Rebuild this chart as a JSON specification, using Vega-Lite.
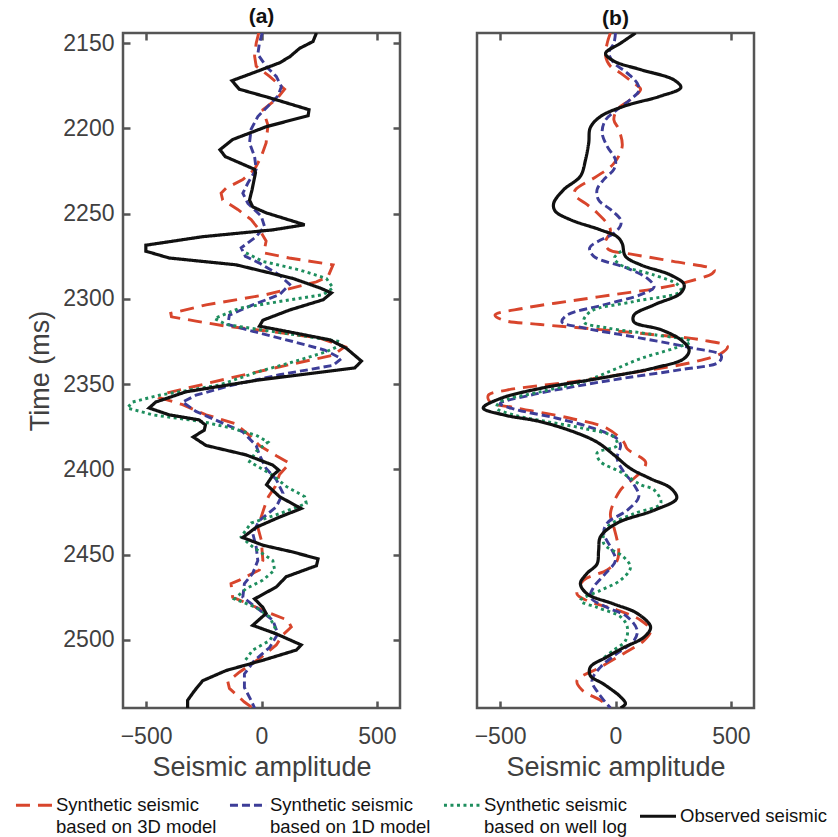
{
  "$schema": "https://vega.github.io/schema/vega-lite/v6.json",
  "padding": {"left": 14, "top": 5, "right": 0, "bottom": 0},
  "background": "white",
  "config": {
    "font": "Liberation Sans",
    "view": {"stroke": "#555555", "strokeWidth": 2.5},
    "axis": {"grid": false, "domain": false, "tickColor": "#555555", "tickWidth": 2.5, "tickSize": -7, "labelFontSize": 23, "labelColor": "#404040", "titleFontSize": 27, "titleFontWeight": "normal", "titleColor": "#404040", "labelFont": "Liberation Sans", "titleFont": "Liberation Sans"},
    "title": {"fontSize": 21, "fontWeight": "bold", "color": "#111111", "offset": 3, "font": "Liberation Sans"},
    "legend": {"title": null, "orient": "none", "legendX": -109, "legendY": 752, "direction": "horizontal", "columns": 4, "symbolType": "stroke", "symbolSize": 1300, "symbolStrokeWidth": 3, "labelFontSize": 18.5, "labelColor": "#111111", "labelLimit": 400, "columnPadding": 6, "labelOffset": 2, "labelFont": "Liberation Sans"},
    "style": {"guide-label": {"lineHeight": 22}}
  },
  "data": {"values": [
    {"p":"a","s":"3D model","t":2144,"v":-12},{"p":"a","s":"3D model","t":2150,"v":-23},{"p":"a","s":"3D model","t":2157.5,"v":-30},{"p":"a","s":"3D model","t":2163.5,"v":-23},{"p":"a","s":"3D model","t":2169.5,"v":35},{"p":"a","s":"3D model","t":2177,"v":100},{"p":"a","s":"3D model","t":2183,"v":64},{"p":"a","s":"3D model","t":2189,"v":6},{"p":"a","s":"3D model","t":2198,"v":28},{"p":"a","s":"3D model","t":2208.5,"v":20},{"p":"a","s":"3D model","t":2216.5,"v":-1},{"p":"a","s":"3D model","t":2224,"v":-30},{"p":"a","s":"3D model","t":2230,"v":-81},{"p":"a","s":"3D model","t":2235,"v":-153},{"p":"a","s":"3D model","t":2238,"v":-175},{"p":"a","s":"3D model","t":2242,"v":-168},{"p":"a","s":"3D model","t":2247.5,"v":-103},{"p":"a","s":"3D model","t":2253.5,"v":-45},{"p":"a","s":"3D model","t":2259.5,"v":-9},{"p":"a","s":"3D model","t":2266,"v":20},{"p":"a","s":"3D model","t":2273,"v":10},{"p":"a","s":"3D model","t":2276,"v":120},{"p":"a","s":"3D model","t":2280,"v":310},{"p":"a","s":"3D model","t":2287,"v":288},{"p":"a","s":"3D model","t":2290,"v":238},{"p":"a","s":"3D model","t":2297.5,"v":20},{"p":"a","s":"3D model","t":2303.5,"v":-240},{"p":"a","s":"3D model","t":2308.5,"v":-393},{"p":"a","s":"3D model","t":2310.5,"v":-390},{"p":"a","s":"3D model","t":2313,"v":-284},{"p":"a","s":"3D model","t":2316,"v":-153},{"p":"a","s":"3D model","t":2319,"v":35},{"p":"a","s":"3D model","t":2323,"v":252},{"p":"a","s":"3D model","t":2328,"v":361},{"p":"a","s":"3D model","t":2333,"v":310},{"p":"a","s":"3D model","t":2339,"v":107},{"p":"a","s":"3D model","t":2346.5,"v":-139},{"p":"a","s":"3D model","t":2352.5,"v":-327},{"p":"a","s":"3D model","t":2355.5,"v":-420},{"p":"a","s":"3D model","t":2358,"v":-440},{"p":"a","s":"3D model","t":2362,"v":-342},{"p":"a","s":"3D model","t":2368,"v":-240},{"p":"a","s":"3D model","t":2373,"v":-117},{"p":"a","s":"3D model","t":2380,"v":-52},{"p":"a","s":"3D model","t":2386,"v":-9},{"p":"a","s":"3D model","t":2392,"v":64},{"p":"a","s":"3D model","t":2396.5,"v":122},{"p":"a","s":"3D model","t":2403,"v":78},{"p":"a","s":"3D model","t":2410,"v":60},{"p":"a","s":"3D model","t":2416,"v":30},{"p":"a","s":"3D model","t":2422,"v":13},{"p":"a","s":"3D model","t":2434,"v":-16},{"p":"a","s":"3D model","t":2441.5,"v":-1},{"p":"a","s":"3D model","t":2453.5,"v":6},{"p":"a","s":"3D model","t":2459,"v":-9},{"p":"a","s":"3D model","t":2465,"v":-96},{"p":"a","s":"3D model","t":2467,"v":-132},{"p":"a","s":"3D model","t":2475,"v":-125},{"p":"a","s":"3D model","t":2477.5,"v":-81},{"p":"a","s":"3D model","t":2483.5,"v":20},{"p":"a","s":"3D model","t":2488.5,"v":114},{"p":"a","s":"3D model","t":2492.5,"v":129},{"p":"a","s":"3D model","t":2497,"v":93},{"p":"a","s":"3D model","t":2503,"v":64},{"p":"a","s":"3D model","t":2511,"v":-9},{"p":"a","s":"3D model","t":2519,"v":-96},{"p":"a","s":"3D model","t":2524.5,"v":-146},{"p":"a","s":"3D model","t":2528.5,"v":-139},{"p":"a","s":"3D model","t":2536.5,"v":-74},{"p":"a","s":"3D model","t":2540,"v":-38},

    {"p":"a","s":"1D model","t":2144,"v":3},{"p":"a","s":"1D model","t":2150,"v":-9},{"p":"a","s":"1D model","t":2156.5,"v":-16},{"p":"a","s":"1D model","t":2163.5,"v":20},{"p":"a","s":"1D model","t":2169.5,"v":64},{"p":"a","s":"1D model","t":2175.5,"v":86},{"p":"a","s":"1D model","t":2181,"v":71},{"p":"a","s":"1D model","t":2187,"v":28},{"p":"a","s":"1D model","t":2193,"v":-16},{"p":"a","s":"1D model","t":2200.5,"v":-45},{"p":"a","s":"1D model","t":2208.5,"v":-52},{"p":"a","s":"1D model","t":2216.5,"v":-30},{"p":"a","s":"1D model","t":2224,"v":-23},{"p":"a","s":"1D model","t":2232,"v":-59},{"p":"a","s":"1D model","t":2238,"v":-81},{"p":"a","s":"1D model","t":2244,"v":-59},{"p":"a","s":"1D model","t":2251.5,"v":-1},{"p":"a","s":"1D model","t":2257.5,"v":13},{"p":"a","s":"1D model","t":2263.5,"v":-23},{"p":"a","s":"1D model","t":2270,"v":-88},{"p":"a","s":"1D model","t":2275,"v":-70},{"p":"a","s":"1D model","t":2279,"v":-9},{"p":"a","s":"1D model","t":2286,"v":78},{"p":"a","s":"1D model","t":2291.5,"v":122},{"p":"a","s":"1D model","t":2297.5,"v":78},{"p":"a","s":"1D model","t":2303.5,"v":-38},{"p":"a","s":"1D model","t":2309.5,"v":-139},{"p":"a","s":"1D model","t":2315,"v":-146},{"p":"a","s":"1D model","t":2319,"v":-38},{"p":"a","s":"1D model","t":2325,"v":136},{"p":"a","s":"1D model","t":2330,"v":274},{"p":"a","s":"1D model","t":2335,"v":346},{"p":"a","s":"1D model","t":2339,"v":310},{"p":"a","s":"1D model","t":2344.5,"v":78},{"p":"a","s":"1D model","t":2350.5,"v":-125},{"p":"a","s":"1D model","t":2356.5,"v":-284},{"p":"a","s":"1D model","t":2360.5,"v":-342},{"p":"a","s":"1D model","t":2366,"v":-284},{"p":"a","s":"1D model","t":2372,"v":-183},{"p":"a","s":"1D model","t":2378,"v":-81},{"p":"a","s":"1D model","t":2386,"v":-23},{"p":"a","s":"1D model","t":2391.5,"v":-9},{"p":"a","s":"1D model","t":2399.5,"v":20},{"p":"a","s":"1D model","t":2406,"v":64},{"p":"a","s":"1D model","t":2414,"v":93},{"p":"a","s":"1D model","t":2422,"v":64},{"p":"a","s":"1D model","t":2430,"v":-9},{"p":"a","s":"1D model","t":2437.5,"v":-38},{"p":"a","s":"1D model","t":2445.5,"v":-23},{"p":"a","s":"1D model","t":2453.5,"v":-16},{"p":"a","s":"1D model","t":2461,"v":-38},{"p":"a","s":"1D model","t":2467,"v":-74},{"p":"a","s":"1D model","t":2475,"v":-81},{"p":"a","s":"1D model","t":2481,"v":-23},{"p":"a","s":"1D model","t":2488.5,"v":49},{"p":"a","s":"1D model","t":2496.5,"v":71},{"p":"a","s":"1D model","t":2504.5,"v":35},{"p":"a","s":"1D model","t":2512,"v":-30},{"p":"a","s":"1D model","t":2520,"v":-74},{"p":"a","s":"1D model","t":2528,"v":-74},{"p":"a","s":"1D model","t":2535.5,"v":-45},{"p":"a","s":"1D model","t":2540,"v":-30},

    {"p":"a","s":"well log","t":2273,"v":-67},{"p":"a","s":"well log","t":2278,"v":6},{"p":"a","s":"well log","t":2283,"v":165},{"p":"a","s":"well log","t":2288,"v":281},{"p":"a","s":"well log","t":2293.5,"v":310},{"p":"a","s":"well log","t":2297.5,"v":267},{"p":"a","s":"well log","t":2301.5,"v":78},{"p":"a","s":"well log","t":2305.5,"v":-96},{"p":"a","s":"well log","t":2311.5,"v":-204},{"p":"a","s":"well log","t":2315,"v":-153},{"p":"a","s":"well log","t":2318,"v":-9},{"p":"a","s":"well log","t":2322,"v":194},{"p":"a","s":"well log","t":2325,"v":339},{"p":"a","s":"well log","t":2327,"v":345},{"p":"a","s":"well log","t":2331,"v":281},{"p":"a","s":"well log","t":2337,"v":136},{"p":"a","s":"well log","t":2342.5,"v":-9},{"p":"a","s":"well log","t":2350.5,"v":-183},{"p":"a","s":"well log","t":2356.5,"v":-443},{"p":"a","s":"well log","t":2360.5,"v":-559},{"p":"a","s":"well log","t":2364,"v":-581},{"p":"a","s":"well log","t":2368,"v":-472},{"p":"a","s":"well log","t":2372,"v":-255},{"p":"a","s":"well log","t":2376,"v":-125},{"p":"a","s":"well log","t":2380,"v":-23},{"p":"a","s":"well log","t":2384,"v":28},{"p":"a","s":"well log","t":2389.5,"v":-23},{"p":"a","s":"well log","t":2395.5,"v":-52},{"p":"a","s":"well log","t":2403.5,"v":49},{"p":"a","s":"well log","t":2410,"v":107},{"p":"a","s":"well log","t":2416,"v":187},{"p":"a","s":"well log","t":2420,"v":194},{"p":"a","s":"well log","t":2426,"v":78},{"p":"a","s":"well log","t":2431.5,"v":-45},{"p":"a","s":"well log","t":2439.5,"v":-88},{"p":"a","s":"well log","t":2445.5,"v":-38},{"p":"a","s":"well log","t":2453.5,"v":49},{"p":"a","s":"well log","t":2459,"v":57},{"p":"a","s":"well log","t":2465,"v":6},{"p":"a","s":"well log","t":2470,"v":-67},{"p":"a","s":"well log","t":2476,"v":-117},{"p":"a","s":"well log","t":2481,"v":-23},{"p":"a","s":"well log","t":2486.5,"v":35},{"p":"a","s":"well log","t":2494.5,"v":64},{"p":"a","s":"well log","t":2500.5,"v":35},{"p":"a","s":"well log","t":2506,"v":-38},{"p":"a","s":"well log","t":2512,"v":-70},

    {"p":"a","s":"Observed seismic","t":2144,"v":238},{"p":"a","s":"Observed seismic","t":2149,"v":223},{"p":"a","s":"Observed seismic","t":2153,"v":165},{"p":"a","s":"Observed seismic","t":2158,"v":122},{"p":"a","s":"Observed seismic","t":2161.5,"v":78},{"p":"a","s":"Observed seismic","t":2166,"v":-9},{"p":"a","s":"Observed seismic","t":2172,"v":-128},{"p":"a","s":"Observed seismic","t":2177,"v":-96},{"p":"a","s":"Observed seismic","t":2182,"v":35},{"p":"a","s":"Observed seismic","t":2189,"v":206},{"p":"a","s":"Observed seismic","t":2192.5,"v":202},{"p":"a","s":"Observed seismic","t":2199,"v":20},{"p":"a","s":"Observed seismic","t":2206.5,"v":-125},{"p":"a","s":"Observed seismic","t":2212.5,"v":-180},{"p":"a","s":"Observed seismic","t":2216.5,"v":-157},{"p":"a","s":"Observed seismic","t":2224,"v":-30},{"p":"a","s":"Observed seismic","t":2226,"v":-26},{"p":"a","s":"Observed seismic","t":2236,"v":-41},{"p":"a","s":"Observed seismic","t":2242,"v":-52},{"p":"a","s":"Observed seismic","t":2246,"v":-38},{"p":"a","s":"Observed seismic","t":2249.5,"v":20},{"p":"a","s":"Observed seismic","t":2256.5,"v":187},{"p":"a","s":"Observed seismic","t":2259.5,"v":49},{"p":"a","s":"Observed seismic","t":2263.5,"v":-255},{"p":"a","s":"Observed seismic","t":2268.5,"v":-501},{"p":"a","s":"Observed seismic","t":2272,"v":-501},{"p":"a","s":"Observed seismic","t":2276,"v":-400},{"p":"a","s":"Observed seismic","t":2280,"v":-110},{"p":"a","s":"Observed seismic","t":2288,"v":136},{"p":"a","s":"Observed seismic","t":2293.5,"v":252},{"p":"a","s":"Observed seismic","t":2296.5,"v":303},{"p":"a","s":"Observed seismic","t":2300.5,"v":267},{"p":"a","s":"Observed seismic","t":2306.5,"v":122},{"p":"a","s":"Observed seismic","t":2312.5,"v":6},{"p":"a","s":"Observed seismic","t":2316,"v":-9},{"p":"a","s":"Observed seismic","t":2319,"v":107},{"p":"a","s":"Observed seismic","t":2324,"v":296},{"p":"a","s":"Observed seismic","t":2329,"v":368},{"p":"a","s":"Observed seismic","t":2336.5,"v":433},{"p":"a","s":"Observed seismic","t":2340.5,"v":404},{"p":"a","s":"Observed seismic","t":2347.5,"v":-9},{"p":"a","s":"Observed seismic","t":2354.5,"v":-327},{"p":"a","s":"Observed seismic","t":2360.5,"v":-458},{"p":"a","s":"Observed seismic","t":2364,"v":-487},{"p":"a","s":"Observed seismic","t":2368,"v":-400},{"p":"a","s":"Observed seismic","t":2371,"v":-270},{"p":"a","s":"Observed seismic","t":2374,"v":-243},{"p":"a","s":"Observed seismic","t":2377,"v":-248},{"p":"a","s":"Observed seismic","t":2381,"v":-296},{"p":"a","s":"Observed seismic","t":2386,"v":-240},{"p":"a","s":"Observed seismic","t":2391.5,"v":-67},{"p":"a","s":"Observed seismic","t":2397.5,"v":49},{"p":"a","s":"Observed seismic","t":2400.5,"v":75},{"p":"a","s":"Observed seismic","t":2403.5,"v":49},{"p":"a","s":"Observed seismic","t":2409,"v":22},{"p":"a","s":"Observed seismic","t":2416,"v":78},{"p":"a","s":"Observed seismic","t":2423,"v":172},{"p":"a","s":"Observed seismic","t":2428,"v":78},{"p":"a","s":"Observed seismic","t":2434,"v":-23},{"p":"a","s":"Observed seismic","t":2440,"v":-81},{"p":"a","s":"Observed seismic","t":2444.5,"v":6},{"p":"a","s":"Observed seismic","t":2448.5,"v":136},{"p":"a","s":"Observed seismic","t":2452.5,"v":245},{"p":"a","s":"Observed seismic","t":2456.5,"v":238},{"p":"a","s":"Observed seismic","t":2463,"v":107},{"p":"a","s":"Observed seismic","t":2469,"v":64},{"p":"a","s":"Observed seismic","t":2476,"v":-30},{"p":"a","s":"Observed seismic","t":2481,"v":6},{"p":"a","s":"Observed seismic","t":2484.5,"v":20},{"p":"a","s":"Observed seismic","t":2491.5,"v":-38},{"p":"a","s":"Observed seismic","t":2496.5,"v":64},{"p":"a","s":"Observed seismic","t":2503,"v":172},{"p":"a","s":"Observed seismic","t":2506,"v":151},{"p":"a","s":"Observed seismic","t":2512,"v":6},{"p":"a","s":"Observed seismic","t":2518,"v":-153},{"p":"a","s":"Observed seismic","t":2524,"v":-255},{"p":"a","s":"Observed seismic","t":2530,"v":-291},{"p":"a","s":"Observed seismic","t":2535.5,"v":-320},{"p":"a","s":"Observed seismic","t":2540,"v":-320},

    {"p":"b","s":"3D model","t":2144,"v":-22},{"p":"b","s":"3D model","t":2150,"v":-36},{"p":"b","s":"3D model","t":2157.5,"v":-43},{"p":"b","s":"3D model","t":2163.5,"v":-22},{"p":"b","s":"3D model","t":2167.5,"v":22},{"p":"b","s":"3D model","t":2173.5,"v":80},{"p":"b","s":"3D model","t":2177,"v":109},{"p":"b","s":"3D model","t":2183,"v":65},{"p":"b","s":"3D model","t":2189,"v":7},{"p":"b","s":"3D model","t":2195,"v":-7},{"p":"b","s":"3D model","t":2200.5,"v":14},{"p":"b","s":"3D model","t":2210.5,"v":29},{"p":"b","s":"3D model","t":2220.5,"v":-7},{"p":"b","s":"3D model","t":2228,"v":-80},{"p":"b","s":"3D model","t":2236,"v":-174},{"p":"b","s":"3D model","t":2239,"v":-178},{"p":"b","s":"3D model","t":2244,"v":-130},{"p":"b","s":"3D model","t":2249.5,"v":-80},{"p":"b","s":"3D model","t":2259.5,"v":-22},{"p":"b","s":"3D model","t":2267,"v":-45},{"p":"b","s":"3D model","t":2271,"v":-30},{"p":"b","s":"3D model","t":2274,"v":80},{"p":"b","s":"3D model","t":2278,"v":250},{"p":"b","s":"3D model","t":2283,"v":428},{"p":"b","s":"3D model","t":2285,"v":420},{"p":"b","s":"3D model","t":2290,"v":311},{"p":"b","s":"3D model","t":2293.5,"v":196},{"p":"b","s":"3D model","t":2297.5,"v":-7},{"p":"b","s":"3D model","t":2301.5,"v":-210},{"p":"b","s":"3D model","t":2305.5,"v":-399},{"p":"b","s":"3D model","t":2309.5,"v":-522},{"p":"b","s":"3D model","t":2312.5,"v":-486},{"p":"b","s":"3D model","t":2315,"v":-326},{"p":"b","s":"3D model","t":2318,"v":-65},{"p":"b","s":"3D model","t":2321,"v":167},{"p":"b","s":"3D model","t":2324,"v":370},{"p":"b","s":"3D model","t":2328,"v":485},{"p":"b","s":"3D model","t":2332,"v":457},{"p":"b","s":"3D model","t":2337,"v":340},{"p":"b","s":"3D model","t":2342.5,"v":109},{"p":"b","s":"3D model","t":2348.5,"v":-181},{"p":"b","s":"3D model","t":2353.5,"v":-471},{"p":"b","s":"3D model","t":2356.5,"v":-551},{"p":"b","s":"3D model","t":2360.5,"v":-543},{"p":"b","s":"3D model","t":2364,"v":-428},{"p":"b","s":"3D model","t":2370,"v":-196},{"p":"b","s":"3D model","t":2376,"v":-36},{"p":"b","s":"3D model","t":2384,"v":36},{"p":"b","s":"3D model","t":2388,"v":51},{"p":"b","s":"3D model","t":2395.5,"v":130},{"p":"b","s":"3D model","t":2399.5,"v":123},{"p":"b","s":"3D model","t":2407,"v":65},{"p":"b","s":"3D model","t":2412,"v":22},{"p":"b","s":"3D model","t":2426,"v":-22},{"p":"b","s":"3D model","t":2434,"v":-7},{"p":"b","s":"3D model","t":2441.5,"v":7},{"p":"b","s":"3D model","t":2447.5,"v":14},{"p":"b","s":"3D model","t":2453.5,"v":7},{"p":"b","s":"3D model","t":2459,"v":-36},{"p":"b","s":"3D model","t":2465,"v":-138},{"p":"b","s":"3D model","t":2473,"v":-167},{"p":"b","s":"3D model","t":2477,"v":-123},{"p":"b","s":"3D model","t":2482.5,"v":7},{"p":"b","s":"3D model","t":2488.5,"v":109},{"p":"b","s":"3D model","t":2494.5,"v":152},{"p":"b","s":"3D model","t":2500.5,"v":123},{"p":"b","s":"3D model","t":2508,"v":36},{"p":"b","s":"3D model","t":2516,"v":-65},{"p":"b","s":"3D model","t":2524,"v":-167},{"p":"b","s":"3D model","t":2529.5,"v":-145},{"p":"b","s":"3D model","t":2535.5,"v":-65},{"p":"b","s":"3D model","t":2540,"v":-22},

    {"p":"b","s":"1D model","t":2144,"v":0},{"p":"b","s":"1D model","t":2150,"v":-7},{"p":"b","s":"1D model","t":2155.5,"v":-29},{"p":"b","s":"1D model","t":2161.5,"v":-7},{"p":"b","s":"1D model","t":2167.5,"v":51},{"p":"b","s":"1D model","t":2173.5,"v":94},{"p":"b","s":"1D model","t":2178,"v":101},{"p":"b","s":"1D model","t":2183,"v":65},{"p":"b","s":"1D model","t":2189,"v":7},{"p":"b","s":"1D model","t":2195,"v":-43},{"p":"b","s":"1D model","t":2202.5,"v":-58},{"p":"b","s":"1D model","t":2210.5,"v":-36},{"p":"b","s":"1D model","t":2218.5,"v":0},{"p":"b","s":"1D model","t":2224,"v":-7},{"p":"b","s":"1D model","t":2230,"v":-51},{"p":"b","s":"1D model","t":2236,"v":-80},{"p":"b","s":"1D model","t":2242,"v":-73},{"p":"b","s":"1D model","t":2247.5,"v":-22},{"p":"b","s":"1D model","t":2253.5,"v":22},{"p":"b","s":"1D model","t":2257,"v":22},{"p":"b","s":"1D model","t":2261.5,"v":-7},{"p":"b","s":"1D model","t":2265.5,"v":-65},{"p":"b","s":"1D model","t":2270,"v":-112},{"p":"b","s":"1D model","t":2275,"v":-94},{"p":"b","s":"1D model","t":2282,"v":51},{"p":"b","s":"1D model","t":2288,"v":138},{"p":"b","s":"1D model","t":2293,"v":167},{"p":"b","s":"1D model","t":2297.5,"v":109},{"p":"b","s":"1D model","t":2303.5,"v":-51},{"p":"b","s":"1D model","t":2309.5,"v":-210},{"p":"b","s":"1D model","t":2313.5,"v":-232},{"p":"b","s":"1D model","t":2317,"v":-138},{"p":"b","s":"1D model","t":2323,"v":109},{"p":"b","s":"1D model","t":2329,"v":340},{"p":"b","s":"1D model","t":2333,"v":457},{"p":"b","s":"1D model","t":2337,"v":449},{"p":"b","s":"1D model","t":2341.5,"v":283},{"p":"b","s":"1D model","t":2346.5,"v":36},{"p":"b","s":"1D model","t":2351.5,"v":-181},{"p":"b","s":"1D model","t":2356.5,"v":-370},{"p":"b","s":"1D model","t":2361.5,"v":-500},{"p":"b","s":"1D model","t":2365,"v":-428},{"p":"b","s":"1D model","t":2370,"v":-254},{"p":"b","s":"1D model","t":2376,"v":-94},{"p":"b","s":"1D model","t":2382,"v":7},{"p":"b","s":"1D model","t":2386,"v":22},{"p":"b","s":"1D model","t":2393.5,"v":7},{"p":"b","s":"1D model","t":2401.5,"v":36},{"p":"b","s":"1D model","t":2409,"v":80},{"p":"b","s":"1D model","t":2416,"v":101},{"p":"b","s":"1D model","t":2424,"v":51},{"p":"b","s":"1D model","t":2431.5,"v":-36},{"p":"b","s":"1D model","t":2437.5,"v":-51},{"p":"b","s":"1D model","t":2445.5,"v":-22},{"p":"b","s":"1D model","t":2453.5,"v":0},{"p":"b","s":"1D model","t":2461,"v":-43},{"p":"b","s":"1D model","t":2469,"v":-94},{"p":"b","s":"1D model","t":2475,"v":-109},{"p":"b","s":"1D model","t":2481,"v":-36},{"p":"b","s":"1D model","t":2486.5,"v":51},{"p":"b","s":"1D model","t":2494.5,"v":94},{"p":"b","s":"1D model","t":2500.5,"v":80},{"p":"b","s":"1D model","t":2508,"v":7},{"p":"b","s":"1D model","t":2516,"v":-65},{"p":"b","s":"1D model","t":2524,"v":-102},{"p":"b","s":"1D model","t":2531.5,"v":-73},{"p":"b","s":"1D model","t":2540,"v":-22},

    {"p":"b","s":"well log","t":2272,"v":25},{"p":"b","s":"well log","t":2276,"v":-5},{"p":"b","s":"well log","t":2280,"v":22},{"p":"b","s":"well log","t":2286,"v":167},{"p":"b","s":"well log","t":2291.5,"v":268},{"p":"b","s":"well log","t":2295.5,"v":283},{"p":"b","s":"well log","t":2301.5,"v":80},{"p":"b","s":"well log","t":2307.5,"v":-109},{"p":"b","s":"well log","t":2313.5,"v":-138},{"p":"b","s":"well log","t":2317,"v":-36},{"p":"b","s":"well log","t":2321,"v":167},{"p":"b","s":"well log","t":2325,"v":326},{"p":"b","s":"well log","t":2329,"v":253},{"p":"b","s":"well log","t":2335,"v":109},{"p":"b","s":"well log","t":2341.5,"v":-7},{"p":"b","s":"well log","t":2348.5,"v":-138},{"p":"b","s":"well log","t":2354.5,"v":-326},{"p":"b","s":"well log","t":2360.5,"v":-500},{"p":"b","s":"well log","t":2364,"v":-515},{"p":"b","s":"well log","t":2368,"v":-442},{"p":"b","s":"well log","t":2372,"v":-297},{"p":"b","s":"well log","t":2376,"v":-138},{"p":"b","s":"well log","t":2381,"v":-7},{"p":"b","s":"well log","t":2386,"v":7},{"p":"b","s":"well log","t":2390.5,"v":-80},{"p":"b","s":"well log","t":2395.5,"v":-65},{"p":"b","s":"well log","t":2401.5,"v":22},{"p":"b","s":"well log","t":2409,"v":109},{"p":"b","s":"well log","t":2412,"v":167},{"p":"b","s":"well log","t":2420,"v":196},{"p":"b","s":"well log","t":2426,"v":80},{"p":"b","s":"well log","t":2434,"v":-36},{"p":"b","s":"well log","t":2443.5,"v":-51},{"p":"b","s":"well log","t":2451.5,"v":36},{"p":"b","s":"well log","t":2457.5,"v":65},{"p":"b","s":"well log","t":2465,"v":22},{"p":"b","s":"well log","t":2471,"v":-65},{"p":"b","s":"well log","t":2477,"v":-152},{"p":"b","s":"well log","t":2481,"v":-80},{"p":"b","s":"well log","t":2486.5,"v":22},{"p":"b","s":"well log","t":2492.5,"v":51},{"p":"b","s":"well log","t":2500.5,"v":43},{"p":"b","s":"well log","t":2506,"v":-7},{"p":"b","s":"well log","t":2512,"v":-65},

    {"p":"b","s":"Observed seismic","t":2144,"v":87},{"p":"b","s":"Observed seismic","t":2150,"v":22},{"p":"b","s":"Observed seismic","t":2156,"v":-43},{"p":"b","s":"Observed seismic","t":2160.5,"v":-7},{"p":"b","s":"Observed seismic","t":2165.5,"v":109},{"p":"b","s":"Observed seismic","t":2171.5,"v":253},{"p":"b","s":"Observed seismic","t":2176,"v":283},{"p":"b","s":"Observed seismic","t":2181,"v":196},{"p":"b","s":"Observed seismic","t":2187,"v":36},{"p":"b","s":"Observed seismic","t":2193,"v":-65},{"p":"b","s":"Observed seismic","t":2199.5,"v":-109},{"p":"b","s":"Observed seismic","t":2208.5,"v":-116},{"p":"b","s":"Observed seismic","t":2218.5,"v":-130},{"p":"b","s":"Observed seismic","t":2228,"v":-152},{"p":"b","s":"Observed seismic","t":2236,"v":-225},{"p":"b","s":"Observed seismic","t":2244,"v":-268},{"p":"b","s":"Observed seismic","t":2248.5,"v":-261},{"p":"b","s":"Observed seismic","t":2253.5,"v":-196},{"p":"b","s":"Observed seismic","t":2259.5,"v":-65},{"p":"b","s":"Observed seismic","t":2263.5,"v":7},{"p":"b","s":"Observed seismic","t":2267.5,"v":29},{"p":"b","s":"Observed seismic","t":2275,"v":43},{"p":"b","s":"Observed seismic","t":2280,"v":109},{"p":"b","s":"Observed seismic","t":2286,"v":239},{"p":"b","s":"Observed seismic","t":2291.5,"v":297},{"p":"b","s":"Observed seismic","t":2296.5,"v":283},{"p":"b","s":"Observed seismic","t":2303.5,"v":167},{"p":"b","s":"Observed seismic","t":2309.5,"v":80},{"p":"b","s":"Observed seismic","t":2313.5,"v":80},{"p":"b","s":"Observed seismic","t":2318,"v":196},{"p":"b","s":"Observed seismic","t":2324,"v":283},{"p":"b","s":"Observed seismic","t":2330,"v":319},{"p":"b","s":"Observed seismic","t":2335,"v":297},{"p":"b","s":"Observed seismic","t":2340.5,"v":167},{"p":"b","s":"Observed seismic","t":2346.5,"v":-65},{"p":"b","s":"Observed seismic","t":2352.5,"v":-326},{"p":"b","s":"Observed seismic","t":2358.5,"v":-500},{"p":"b","s":"Observed seismic","t":2364,"v":-573},{"p":"b","s":"Observed seismic","t":2368,"v":-486},{"p":"b","s":"Observed seismic","t":2372,"v":-326},{"p":"b","s":"Observed seismic","t":2378,"v":-181},{"p":"b","s":"Observed seismic","t":2384,"v":-80},{"p":"b","s":"Observed seismic","t":2391.5,"v":-7},{"p":"b","s":"Observed seismic","t":2399.5,"v":65},{"p":"b","s":"Observed seismic","t":2405.5,"v":152},{"p":"b","s":"Observed seismic","t":2411,"v":239},{"p":"b","s":"Observed seismic","t":2417,"v":265},{"p":"b","s":"Observed seismic","t":2424,"v":167},{"p":"b","s":"Observed seismic","t":2431.5,"v":7},{"p":"b","s":"Observed seismic","t":2439.5,"v":-65},{"p":"b","s":"Observed seismic","t":2447.5,"v":-73},{"p":"b","s":"Observed seismic","t":2455.5,"v":-80},{"p":"b","s":"Observed seismic","t":2461,"v":-123},{"p":"b","s":"Observed seismic","t":2467,"v":-152},{"p":"b","s":"Observed seismic","t":2473,"v":-123},{"p":"b","s":"Observed seismic","t":2479,"v":-7},{"p":"b","s":"Observed seismic","t":2484.5,"v":94},{"p":"b","s":"Observed seismic","t":2492.5,"v":152},{"p":"b","s":"Observed seismic","t":2498.5,"v":123},{"p":"b","s":"Observed seismic","t":2504.5,"v":36},{"p":"b","s":"Observed seismic","t":2510,"v":-36},{"p":"b","s":"Observed seismic","t":2516,"v":-109},{"p":"b","s":"Observed seismic","t":2521,"v":-109},{"p":"b","s":"Observed seismic","t":2526,"v":-51},{"p":"b","s":"Observed seismic","t":2533.5,"v":22},{"p":"b","s":"Observed seismic","t":2537.5,"v":43},{"p":"b","s":"Observed seismic","t":2540,"v":22}
  ]},
  "spacing": 69,
  "hconcat": [
    {
      "width": 277, "height": 675,
      "title": {"text": "(a)", "fontSize": 21},
      "transform": [{"filter": "datum.p == 'a'"}],
      "layer": [
        {
          "mark": {"type": "line", "clip": true},
          "encoding": {
            "x": {"field": "v", "type": "quantitative", "scale": {"domain": [-600, 600], "nice": false, "zero": false}, "axis": {"orient": "bottom", "values": [-500, 0, 500], "title": "Seismic amplitude", "labelPadding": 24, "titlePadding": 6}},
            "y": {"field": "t", "type": "quantitative", "scale": {"domain": [2144, 2540], "nice": false, "zero": false, "reverse": true}, "axis": {"orient": "left", "values": [2150, 2200, 2250, 2300, 2350, 2400, 2450, 2500], "format": "d", "title": "Time (ms)", "labelPadding": 16, "titlePadding": 8}},
            "order": {"field": "t", "type": "quantitative"},
            "color": {"field": "s", "type": "nominal", "scale": {"domain": ["3D model", "1D model", "well log", "Observed seismic"], "range": ["#D8452C", "#3D3D98", "#1E8E5E", "#111111"]}, "legend": {"labelExpr": "datum.label == 'Observed seismic' ? datum.label : ['Synthetic seismic', 'based on ' + datum.label]"}},
            "strokeDash": {"field": "s", "type": "nominal", "scale": {"domain": ["3D model", "1D model", "well log", "Observed seismic"], "range": [[14, 8], [8, 4], [3, 3.5], [1, 0]]}, "legend": {"labelExpr": "datum.label == 'Observed seismic' ? datum.label : ['Synthetic seismic', 'based on ' + datum.label]"}},
            "strokeWidth": {"condition": {"test": "datum.s == 'Observed seismic'", "value": 3.2}, "value": 2.9}
          }
        },
        {
          "mark": {"type": "point", "opacity": 0},
          "encoding": {
            "x": {"field": "v", "type": "quantitative", "axis": {"orient": "top", "values": [-500, 0, 500], "labels": false, "title": null}},
            "y": {"field": "t", "type": "quantitative", "axis": {"orient": "right", "values": [2150, 2200, 2250, 2300, 2350, 2400, 2450, 2500], "labels": false, "title": null}}
          }
        }
      ],
      "resolve": {"axis": {"x": "independent", "y": "independent"}}
    },
    {
      "width": 277, "height": 675,
      "title": {"text": "(b)", "fontSize": 21},
      "transform": [{"filter": "datum.p == 'b'"}],
      "layer": [
        {
          "mark": {"type": "line", "clip": true, "interpolate": "catmull-rom"},
          "encoding": {
            "x": {"field": "v", "type": "quantitative", "scale": {"domain": [-600, 600], "nice": false, "zero": false}, "axis": {"orient": "bottom", "values": [-500, 0, 500], "title": "Seismic amplitude", "labelPadding": 24, "titlePadding": 6}},
            "y": {"field": "t", "type": "quantitative", "scale": {"domain": [2144, 2540], "nice": false, "zero": false, "reverse": true}, "axis": null},
            "order": {"field": "t", "type": "quantitative"},
            "color": {"field": "s", "type": "nominal", "scale": {"domain": ["3D model", "1D model", "well log", "Observed seismic"], "range": ["#D8452C", "#3D3D98", "#1E8E5E", "#111111"]}, "legend": {"labelExpr": "datum.label == 'Observed seismic' ? datum.label : ['Synthetic seismic', 'based on ' + datum.label]"}},
            "strokeDash": {"field": "s", "type": "nominal", "scale": {"domain": ["3D model", "1D model", "well log", "Observed seismic"], "range": [[14, 8], [8, 4], [3, 3.5], [1, 0]]}, "legend": {"labelExpr": "datum.label == 'Observed seismic' ? datum.label : ['Synthetic seismic', 'based on ' + datum.label]"}},
            "strokeWidth": {"condition": {"test": "datum.s == 'Observed seismic'", "value": 3.2}, "value": 2.9}
          }
        },
        {
          "mark": {"type": "point", "opacity": 0},
          "encoding": {
            "x": {"field": "v", "type": "quantitative", "axis": {"orient": "top", "values": [-500, 500], "labels": false, "title": null}}
          }
        }
      ],
      "resolve": {"axis": {"x": "independent"}}
    }
  ]
}
